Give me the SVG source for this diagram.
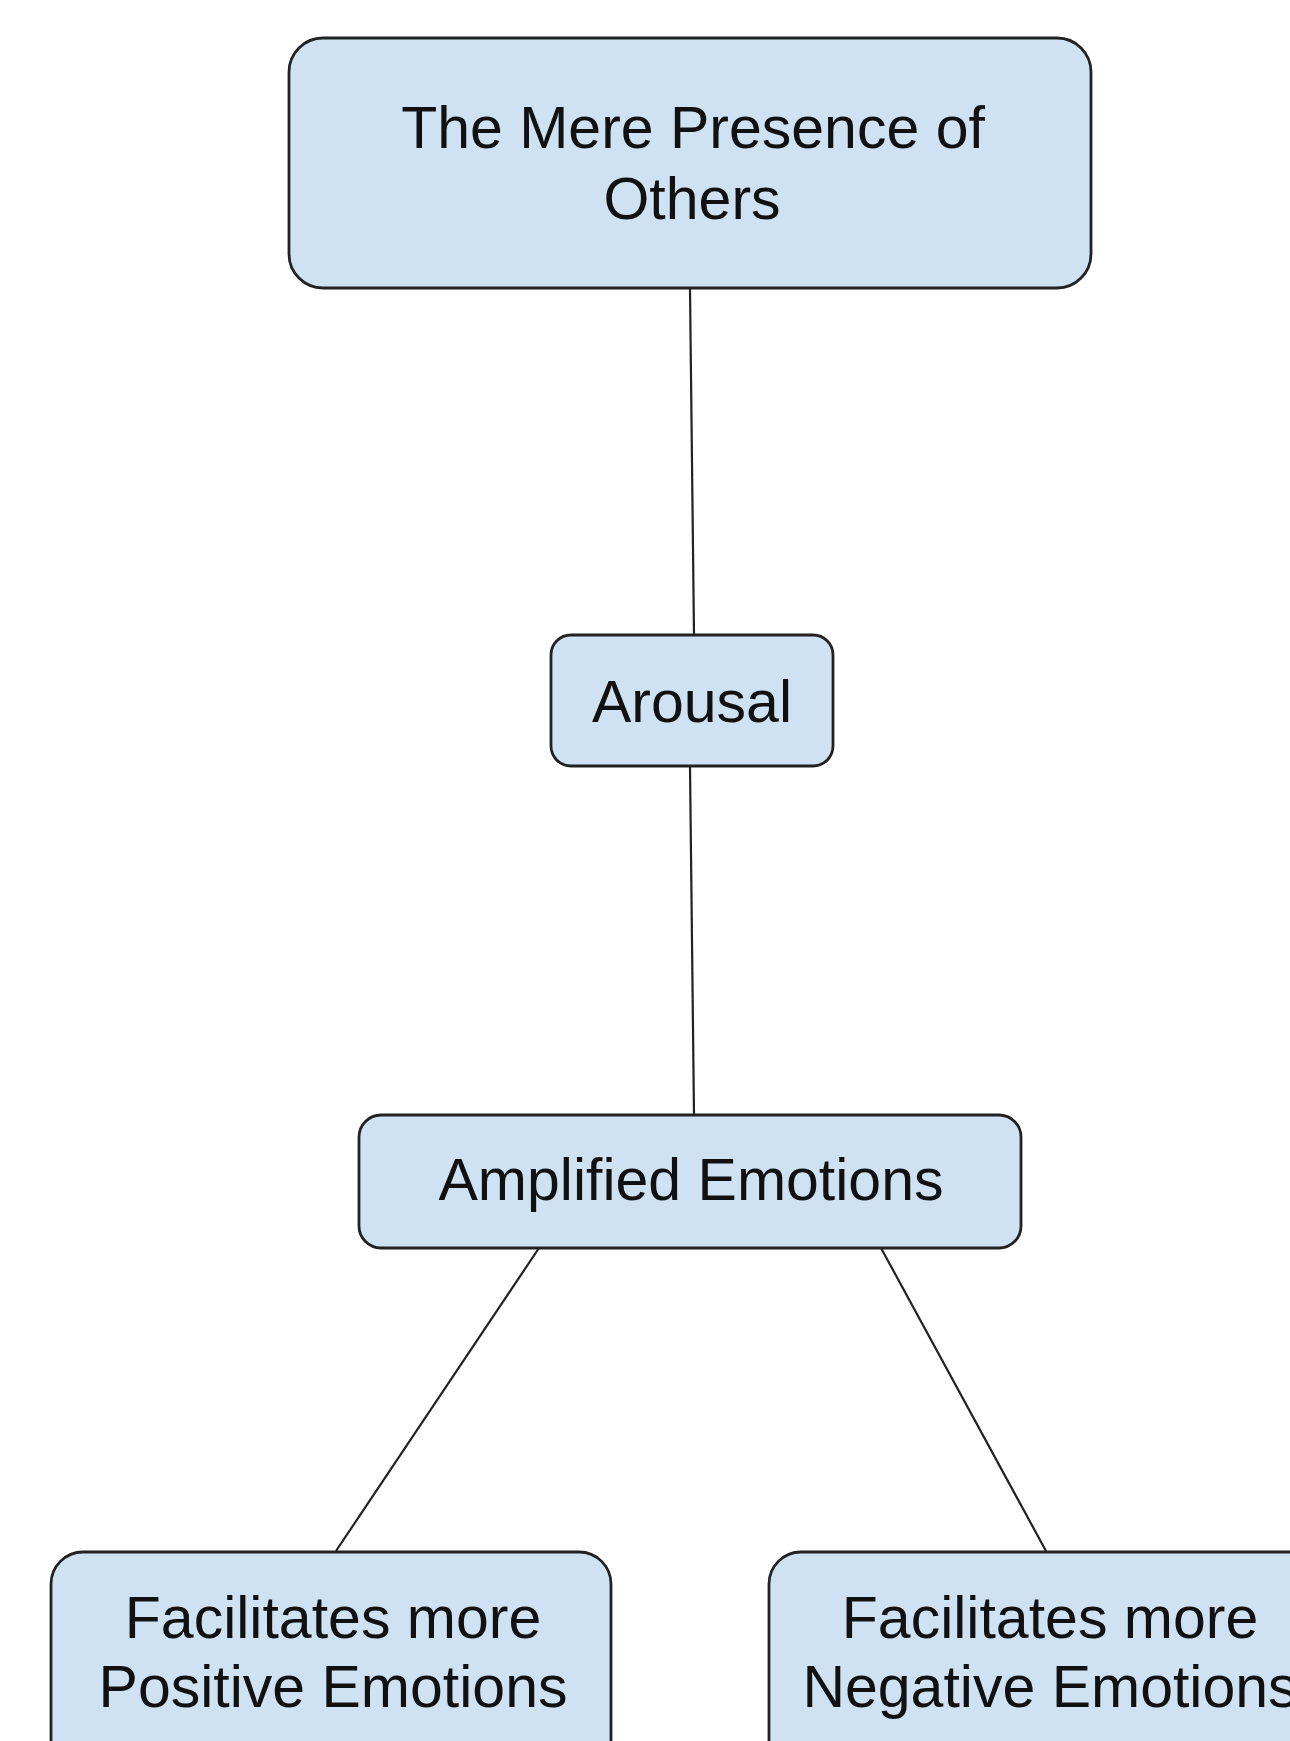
<svg xmlns="http://www.w3.org/2000/svg" width="1290" height="1741" viewBox="0 0 1290 1741">
<style>
.box{fill:#cfe2f3;stroke:#222;stroke-width:2.8}
.lbl{font-family:"Liberation Sans",Arial,sans-serif;font-size:59px;fill:#111;text-anchor:middle}
.con{stroke:#222;stroke-width:2.2;fill:none}
</style>
<rect width="1290" height="1741" fill="#fff"/>
<g id="connectors">
<line class="con" x1="690" y1="289" x2="694" y2="635"/>
<line class="con" x1="690" y1="766" x2="694" y2="1115"/>
<line class="con" x1="539" y1="1248" x2="336" y2="1551"/>
<line class="con" x1="881" y1="1248" x2="1046" y2="1551"/>
</g>
<g id="n1">
<rect class="box" x="289" y="38" width="802" height="250" rx="34"/>
<text class="lbl" x="693" y="148">The Mere Presence of</text>
<text class="lbl" x="692" y="219">Others</text>
</g>
<g id="n2">
<rect class="box" x="551" y="635" width="282" height="131" rx="20"/>
<text class="lbl" x="692" y="722">Arousal</text>
</g>
<g id="n3">
<rect class="box" x="359" y="1115" width="662" height="133" rx="22"/>
<text class="lbl" x="691" y="1200">Amplified Emotions</text>
</g>
<g id="n4">
<rect class="box" x="51" y="1552" width="560" height="230" rx="32"/>
<text class="lbl" x="333" y="1638">Facilitates more</text>
<text class="lbl" x="333" y="1707">Positive Emotions</text>
</g>
<g id="n5">
<rect class="box" x="769" y="1552" width="580" height="230" rx="32"/>
<text class="lbl" x="1050" y="1638">Facilitates more</text>
<text class="lbl" x="1050" y="1707">Negative Emotions</text>
</g>
</svg>
